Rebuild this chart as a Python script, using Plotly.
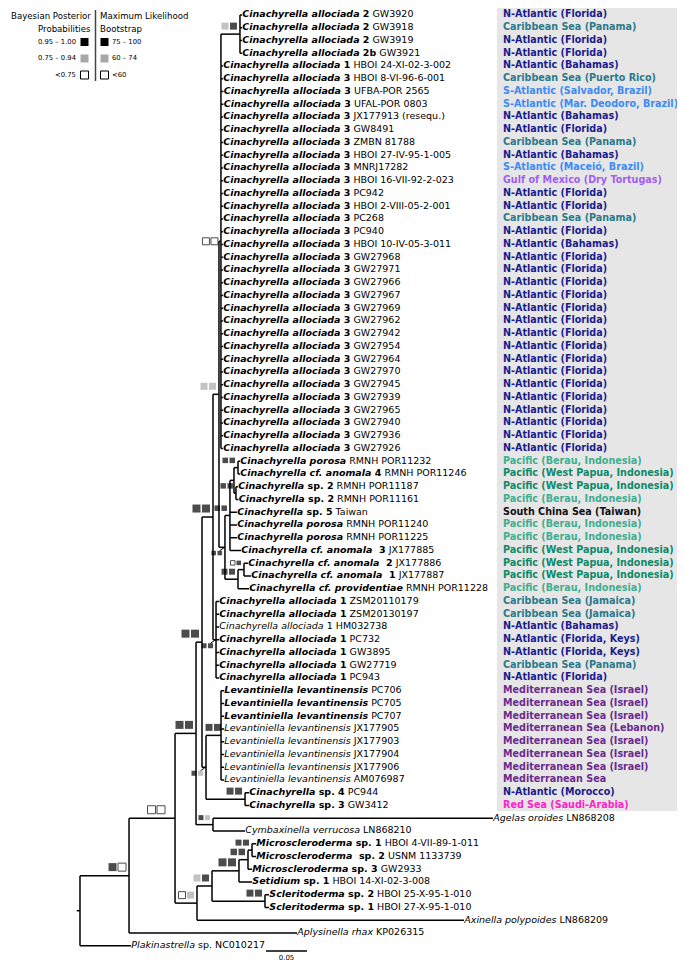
import plotly.graph_objects as go

W, H = 685, 965

# ---------------------------------------------------------------- data
LEAF_TAXON = [
    "Cinachyrella allociada", "Cinachyrella allociada", "Cinachyrella allociada", "Cinachyrella allociada",
    "Cinachyrella allociada", "Cinachyrella allociada", "Cinachyrella allociada", "Cinachyrella allociada",
    "Cinachyrella allociada", "Cinachyrella allociada", "Cinachyrella allociada", "Cinachyrella allociada",
    "Cinachyrella allociada", "Cinachyrella allociada", "Cinachyrella allociada", "Cinachyrella allociada",
    "Cinachyrella allociada", "Cinachyrella allociada", "Cinachyrella allociada", "Cinachyrella allociada",
    "Cinachyrella allociada", "Cinachyrella allociada", "Cinachyrella allociada", "Cinachyrella allociada",
    "Cinachyrella allociada", "Cinachyrella allociada", "Cinachyrella allociada", "Cinachyrella allociada",
    "Cinachyrella allociada", "Cinachyrella allociada", "Cinachyrella allociada", "Cinachyrella allociada",
    "Cinachyrella allociada", "Cinachyrella allociada", "Cinachyrella allociada",
    "Cinachyrella porosa", "Cinachyrella cf. anomala", "Cinachyrella", "Cinachyrella", "Cinachyrella",
    "Cinachyrella porosa", "Cinachyrella porosa", "Cinachyrella cf. anomala", "Cinachyrella cf. anomala",
    "Cinachyrella cf. anomala", "Cinachyrella cf. providentiae",
    "Cinachyrella allociada", "Cinachyrella allociada", "Cinachyrella allociada", "Cinachyrella allociada",
    "Cinachyrella allociada", "Cinachyrella allociada", "Cinachyrella allociada",
    "Levantiniella levantinensis", "Levantiniella levantinensis", "Levantiniella levantinensis",
    "Levantiniella levantinensis", "Levantiniella levantinensis", "Levantiniella levantinensis",
    "Levantiniella levantinensis", "Levantiniella levantinensis",
    "Cinachyrella", "Cinachyrella", "Agelas oroides", "Cymbaxinella verrucosa",
    "Microscleroderma", "Microscleroderma ", "Microscleroderma", "Setidium", "Scleritoderma", "Scleritoderma",
    "Axinella polypoides", "Aplysinella rhax", "Plakinastrella",
]
LEAF_NUM = [
    "2", "2", "2", "2b", "1", "3", "3", "3", "3", "3", "3", "3", "3", "3", "3", "3", "3", "3", "3",
    "3", "3", "3", "3", "3", "3", "3", "3", "3", "3", "3", "3", "3", "3", "3", "3",
    "", "4", "sp. 2", "sp. 2", "sp. 5", "", "", " 3", " 2", " 1", "",
    "1", "1", "1", "1", "1", "1", "1",
    "", "", "", "", "", "", "", "",
    "sp. 4", "sp. 3", "", "", "sp. 1", "sp. 2", "sp. 3", "sp. 1", "sp. 2", "sp. 1", "", "", "sp.",
]
LEAF_VOUCHER = [
    "GW3920", "GW3918", "GW3919", "GW3921", "HBOI 24-XI-02-3-002", "HBOI 8-VI-96-6-001",
    "UFBA-POR 2565", "UFAL-POR 0803", "JX177913 (resequ.)", "GW8491", "ZMBN 81788",
    "HBOI 27-IV-95-1-005", "MNRJ17282", "HBOI 16-VII-92-2-023", "PC942", "HBOI 2-VIII-05-2-001",
    "PC268", "PC940", "HBOI 10-IV-05-3-011", "GW27968", "GW27971", "GW27966", "GW27967",
    "GW27969", "GW27962", "GW27942", "GW27954", "GW27964", "GW27970", "GW27945", "GW27939",
    "GW27965", "GW27940", "GW27936", "GW27926",
    "RMNH POR11232", "RMNH POR11246", "RMNH POR11187", "RMNH POR11161", "Taiwan",
    "RMNH POR11240", "RMNH POR11225", "JX177885", "JX177886", "JX177887", "RMNH POR11228",
    "ZSM20110179", "ZSM20130197", "HM032738", "PC732", "GW3895", "GW27719", "PC943",
    "PC706", "PC705", "PC707", "JX177905", "JX177903", "JX177904", "JX177906", "AM076987",
    "PC944", "GW3412", "LN868208", "LN868210",
    "HBOI 4-VII-89-1-011", "USNM 1133739", "GW2933", "HBOI 14-XI-02-3-008",
    "HBOI 25-X-95-1-010", "HBOI 27-X-95-1-010", "LN868209", "KP026315", "NC010217",
]
LEAF_BOLD = [
    1, 1, 1, 1, 1, 1, 1, 1, 1, 1, 1, 1, 1, 1, 1, 1, 1, 1, 1, 1, 1, 1, 1, 1, 1, 1, 1, 1, 1, 1, 1, 1, 1, 1, 1,
    1, 1, 1, 1, 1, 1, 1, 1, 1, 1, 1,
    1, 1, 0, 1, 1, 1, 1,
    1, 1, 1, 0, 0, 0, 0, 0,
    1, 1, 0, 0, 1, 1, 1, 1, 1, 1, 0, 0, 0,
]
# terminal branch lengths (substitutions/site), leaf order top to bottom
LEAF_BRANCH = [
    0.0024, 0.0024, 0.0024, 0.0024, 0.0024, 0.0024, 0.0030, 0.0030, 0.0024, 0.0024,
    0.0024, 0.0024, 0.0024, 0.0024, 0.0024, 0.0024, 0.0024, 0.0024, 0.0024, 0.0024,
    0.0024, 0.0024, 0.0024, 0.0024, 0.0024, 0.0024, 0.0024, 0.0024, 0.0024, 0.0024,
    0.0024, 0.0024, 0.0024, 0.0024, 0.0024,
    0.0024, 0.0024, 0.0024, 0.0030, 0.0085, 0.0085, 0.0085, 0.0134, 0.0049, 0.0085, 0.0134,
    0.0037, 0.0037, 0.0037, 0.0037, 0.0037, 0.0037, 0.0037,
    0.0037, 0.0037, 0.0037, 0.0037, 0.0037, 0.0037, 0.0037, 0.0037,
    0.0049, 0.0049, 0.3415, 0.0390,
    0.0049, 0.0049, 0.0049, 0.0159, 0.0049, 0.0049, 0.3256, 0.2049, 0.0622,
]
REGION = [
    "N-Atlantic (Florida)", "Caribbean Sea (Panama)", "N-Atlantic (Florida)", "N-Atlantic (Florida)",
    "N-Atlantic (Bahamas)", "Caribbean Sea (Puerto Rico)", "S-Atlantic (Salvador, Brazil)",
    "S-Atlantic (Mar. Deodoro, Brazil)", "N-Atlantic (Bahamas)", "N-Atlantic (Florida)",
    "Caribbean Sea (Panama)", "N-Atlantic (Bahamas)", "S-Atlantic (Maceió, Brazil)",
    "Gulf of Mexico (Dry Tortugas)", "N-Atlantic (Florida)", "N-Atlantic (Florida)",
    "Caribbean Sea (Panama)", "N-Atlantic (Florida)", "N-Atlantic (Bahamas)",
    "N-Atlantic (Florida)", "N-Atlantic (Florida)", "N-Atlantic (Florida)", "N-Atlantic (Florida)",
    "N-Atlantic (Florida)", "N-Atlantic (Florida)", "N-Atlantic (Florida)", "N-Atlantic (Florida)",
    "N-Atlantic (Florida)", "N-Atlantic (Florida)", "N-Atlantic (Florida)", "N-Atlantic (Florida)",
    "N-Atlantic (Florida)", "N-Atlantic (Florida)", "N-Atlantic (Florida)", "N-Atlantic (Florida)",
    "Pacific (Berau, Indonesia)", "Pacific (West Papua, Indonesia)", "Pacific (West Papua, Indonesia)",
    "Pacific (Berau, Indonesia)", "South China Sea (Taiwan)", "Pacific (Berau, Indonesia)",
    "Pacific (Berau, Indonesia)", "Pacific (West Papua, Indonesia)", "Pacific (West Papua, Indonesia)",
    "Pacific (West Papua, Indonesia)", "Pacific (Berau, Indonesia)",
    "Caribbean Sea (Jamaica)", "Caribbean Sea (Jamaica)", "N-Atlantic (Bahamas)",
    "N-Atlantic (Florida, Keys)", "N-Atlantic (Florida, Keys)", "Caribbean Sea (Panama)",
    "N-Atlantic (Florida)",
    "Mediterranean Sea (Israel)", "Mediterranean Sea (Israel)", "Mediterranean Sea (Israel)",
    "Mediterranean Sea (Lebanon)", "Mediterranean Sea (Israel)", "Mediterranean Sea (Israel)",
    "Mediterranean Sea (Israel)", "Mediterranean Sea",
    "N-Atlantic (Morocco)", "Red Sea (Saudi-Arabia)",
]

# internal nodes: ordered children (top to bottom) and branch length to parent
CHILDREN = {
    "R": ["N1", "L73"],
    "N1": ["N2", "L72"],
    "N2": ["N3", "N4"],
    "N3": ["N10", "NAC"],
    "N10": ["N11", "N12"],
    "N11": ["N16", "N15"],
    "N16": ["N18", "N20"],
    "N18": ["N17"] + ["L%d" % i for i in range(4, 35)],
    "N17": ["L0", "L1", "L2", "L3"],
    "N20": ["N21", "N22"],
    "N21": ["N26", "L39", "L40", "L41", "L42"],
    "N26": ["N24", "N25"],
    "N24": ["L35", "L36"],
    "N25": ["L37", "L38"],
    "N22": ["N27", "L45"],
    "N27": ["L43", "L44"],
    "N15": ["L%d" % i for i in range(46, 53)],
    "N12": ["N13", "N14"],
    "N13": ["L%d" % i for i in range(53, 61)],
    "N14": ["L61", "L62"],
    "NAC": ["L63", "L64"],
    "N4": ["N5", "L71"],
    "N5": ["N6", "N7"],
    "N6": ["N8", "L68"],
    "N8": ["N9", "L67"],
    "N9": ["L65", "L66"],
    "N7": ["L69", "L70"],
}
NODE_BRANCH = {
    "N1": 0.0598, "N2": 0.0561, "N3": 0.0256, "N4": 0.0268, "N10": 0.0073, "NAC": 0.0207,
    "N11": 0.0134, "N12": 0.0049, "N16": 0.0073, "N15": 0.0037, "N18": 0.0024, "N20": 0.0073,
    "N17": 0.0232, "N21": 0.0061, "N22": 0.0159, "N26": 0.0049, "N24": 0.0049, "N25": 0.0024,
    "N27": 0.0073, "N13": 0.0183, "N14": 0.0476, "N5": 0.0183, "N6": 0.0329, "N7": 0.0646,
    "N8": 0.0110, "N9": 0.0049,
}
# support: (Bayesian posterior class, ML bootstrap class): b = high, g = medium, w = low
SUPPORT = {
    "N1": ("b", "w"), "N2": ("w", "w"), "N3": ("b", "b"), "N10": ("b", "b"), "N11": ("b", "b"),
    "N16": ("g", "g"), "N18": ("w", "w"), "N17": ("g", "b"), "N20": ("b", "b"), "N21": ("b", "b"),
    "N24": ("b", "b"), "N25": ("b", "b"), "N27": ("w", "b"), "N22": ("b", "b"), "N15": ("b", "b"),
    "N12": ("b", "g"), "N13": ("b", "b"), "N14": ("b", "b"), "NAC": ("b", "g"), "N4": ("w", "g"),
    "N5": ("g", "b"), "N6": ("b", "b"), "N8": ("b", "b"), "N9": ("b", "b"), "N7": ("b", "b"),
}
SCALE_BAR = 0.05

# ---------------------------------------------------------------- styles
X_RANGE = [-0.0878, 0.7476]
Y_RANGE = [75.137, -0.549]
PXX = W / (X_RANGE[1] - X_RANGE[0])
PXY = H / (Y_RANGE[0] - Y_RANGE[1])
FONT = "DejaVu Sans"
SQ_COL = {"b": "#000000", "g": "#a8a8a8", "w": "#ffffff"}
MARKER_PX = {"N1": 8, "N2": 8, "N3": 8, "N10": 8, "N11": 8, "N16": 7, "N18": 7, "N17": 7,
             "N20": 4.5, "N21": 5.5, "N24": 5.5, "N25": 5.5, "N27": 4.5, "N22": 6, "N15": 5,
             "N12": 5, "N13": 7, "N14": 7, "NAC": 5, "N4": 7, "N5": 7, "N6": 8, "N8": 6.5,
             "N9": 6, "N7": 7}
MARKER_PLACE = {"N18": "level", "N15": "below", "N12": "below", "N20": "below"}
MARKER_SHIFT = {"N2": 7, "N13": -3}
LEADERS = ["N20", "N15", "N12"]
REGION_COLORS = [
    ("N-Atlantic", "#1b1b8e"), ("Caribbean", "#2b7a8c"), ("S-Atlantic", "#3d8af5"),
    ("Gulf", "#a05ef2"), ("Pacific (Berau", "#3fae8f"), ("Pacific (West", "#0d8a69"),
    ("South China", "#111111"), ("Mediterranean", "#6b2a8e"), ("Red Sea", "#ff1fc8"),
]


def branch(n):
    return LEAF_BRANCH[int(n[1:])] if n.startswith("L") else NODE_BRANCH[n]


X, Y = {}, {}


def place(n, x):
    X[n] = x
    if n.startswith("L"):
        Y[n] = int(n[1:])
        return
    for c in CHILDREN[n]:
        place(c, x + branch(c))
    Y[n] = (Y[CHILDREN[n][0]] + Y[CHILDREN[n][-1]]) / 2


place("R", 0.0)

fig = go.Figure()

# branches
xs, ys = [], []
for n, kids in CHILDREN.items():
    xs += [X[n], X[n], None]
    ys += [Y[kids[0]], Y[kids[-1]], None]
    for c in kids:
        xs += [X[n], X[c], None]
        ys += [Y[c], Y[c], None]
xs += [X["R"] - 0.004, X["R"], None]
ys += [Y["R"], Y["R"], None]
fig.add_trace(go.Scatter(x=xs, y=ys, mode="lines", line=dict(color="black", width=1.5),
                         hoverinfo="skip", showlegend=False))

# leaf labels
lab_x, lab_y, lab_t = [], [], []
for i, t in enumerate(LEAF_TAXON):
    num = (" " + LEAF_NUM[i]) if LEAF_NUM[i] else ""
    if LEAF_BOLD[i]:
        s = "<b><i>%s</i>%s</b> %s" % (t, num, LEAF_VOUCHER[i])
    else:
        s = "<i>%s</i>%s %s" % (t, num, LEAF_VOUCHER[i])
    lab_x.append(X["L%d" % i] + 0.3 / PXX)
    lab_y.append(i)
    lab_t.append(s)
fig.add_trace(go.Scatter(x=lab_x, y=lab_y, text=lab_t, mode="text", textposition="middle right",
                         textfont=dict(family=FONT, size=9.5, color="black"),
                         marker=dict(size=1), hoverinfo="skip", showlegend=False))


# region labels
def region_color(r):
    for k, c in REGION_COLORS:
        if r.startswith(k):
            return c
    return "black"


reg_x0 = (495 / W) * (X_RANGE[1] - X_RANGE[0]) + X_RANGE[0]
fig.add_trace(go.Scatter(x=[reg_x0] * len(REGION), y=list(range(len(REGION))),
                         text=["<b>%s</b>" % r for r in REGION], mode="text",
                         textposition="middle right",
                         textfont=dict(family=FONT, size=9.6, color=[region_color(r) for r in REGION]),
                         marker=dict(size=1), hoverinfo="skip", showlegend=False))

# support squares
groups = {"b": ([], [], []), "g": ([], [], []), "w": ([], [], [])}
lead_x, lead_y = [], []
for n, (bp, ml) in SUPPORT.items():
    s = MARKER_PX[n]
    right = X[n] - (3 + MARKER_SHIFT.get(n, 0)) / PXX
    pl = MARKER_PLACE.get(n, "above")
    dy = {"above": -(s / 2 + 4.5), "level": 0.0, "below": s / 2 + 3.5}[pl]
    yc = Y[n] + dy / PXY
    for cls, xc in ((bp, right - (1.5 * s + 1.5) / PXX), (ml, right - (s / 2) / PXX)):
        groups[cls][0].append(xc)
        groups[cls][1].append(yc)
        groups[cls][2].append(s)
    if n in LEADERS:
        lead_x += [right - (s / 2) / PXX, X[n] - 0.5 / PXX, None]
        lead_y += [yc - (s / 2) / PXY, Y[n], None]
fig.add_trace(go.Scatter(x=lead_x, y=lead_y, mode="lines", line=dict(color="black", width=1),
                         hoverinfo="skip", showlegend=False))
for cls, (gx, gy, gs) in groups.items():
    fig.add_trace(go.Scatter(
        x=gx, y=gy, mode="markers",
        marker=dict(symbol="square", size=gs, color=SQ_COL[cls],
                    line=dict(color="black" if cls == "w" else SQ_COL[cls], width=1 if cls == "w" else 0)),
        hoverinfo="skip", showlegend=False))

# scale bar
sb_x0 = (258 / W) * (X_RANGE[1] - X_RANGE[0]) + X_RANGE[0]
sb_y = (943 / H) * (Y_RANGE[0] - Y_RANGE[1]) + Y_RANGE[1]
fig.add_trace(go.Scatter(x=[sb_x0, sb_x0 + SCALE_BAR], y=[sb_y, sb_y], mode="lines",
                         line=dict(color="black", width=1.5), hoverinfo="skip", showlegend=False))
fig.add_trace(go.Scatter(x=[sb_x0 + SCALE_BAR / 2], y=[sb_y + 7.5 / PXY], text=["0.05"], mode="text",
                         textposition="middle center",
                         textfont=dict(family=FONT, size=7, color="black"),
                         hoverinfo="skip", showlegend=False))


# legend (paper coordinates from pixels)
def px(x):
    return x / W


def py(y):
    return 1 - y / H


shapes = [
    dict(type="rect", xref="paper", yref="paper", x0=px(489), x1=1.0, y0=py(803), y1=1.0,
         fillcolor="#e6e6e6", line=dict(width=0), layer="below"),
    dict(type="line", xref="paper", yref="paper", x0=px(87.5), x1=px(87.5), y0=py(73), y1=py(2),
         line=dict(color="#444444", width=1.5)),
]
leg_rows = [("0.95 – 1.00", "75 – 100", "b"), ("0.75 – 0.94", "60 – 74", "g"), ("&lt;0.75", "&lt;60", "w")]
ann = [
    dict(x=px(85), y=py(8), text="Bayesian Posterior", xanchor="right"),
    dict(x=px(85), y=py(21), text="Probabilities", xanchor="right"),
    dict(x=px(90), y=py(8), text="Maximum Likelihood", xanchor="left"),
    dict(x=px(90), y=py(21), text="Bootstrap", xanchor="left"),
]
for k, (l, r, cls) in enumerate(leg_rows):
    yc = 34 + 16.5 * k
    shapes.append(dict(type="rect", xref="paper", yref="paper", x0=px(72.5), x1=px(80.5),
                       y0=py(yc + 4), y1=py(yc - 4), fillcolor=SQ_COL[cls],
                       line=dict(color="black", width=1 if cls == "w" else 0)))
    shapes.append(dict(type="rect", xref="paper", yref="paper", x0=px(92.5), x1=px(100.5),
                       y0=py(yc + 4), y1=py(yc - 4), fillcolor=SQ_COL[cls],
                       line=dict(color="black", width=1 if cls == "w" else 0)))
    ann.append(dict(x=px(70), y=py(yc), text=l, xanchor="right", size=6.8))
    ann.append(dict(x=px(102), y=py(yc), text=r, xanchor="left", size=6.8))
for a in ann:
    fig.add_annotation(x=a["x"], y=a["y"], xref="paper", yref="paper", text=a["text"],
                       xanchor=a["xanchor"], yanchor="middle", showarrow=False,
                       font=dict(family=FONT, size=a.get("size", 8.6), color="black"))

fig.update_layout(
    width=W, height=H, margin=dict(l=0, r=0, t=0, b=0),
    paper_bgcolor="white", plot_bgcolor="rgba(0,0,0,0)",
    xaxis=dict(range=X_RANGE, visible=False, fixedrange=True),
    yaxis=dict(range=Y_RANGE, visible=False, fixedrange=True),
    shapes=shapes,
)
fig.write_html("out.html")
